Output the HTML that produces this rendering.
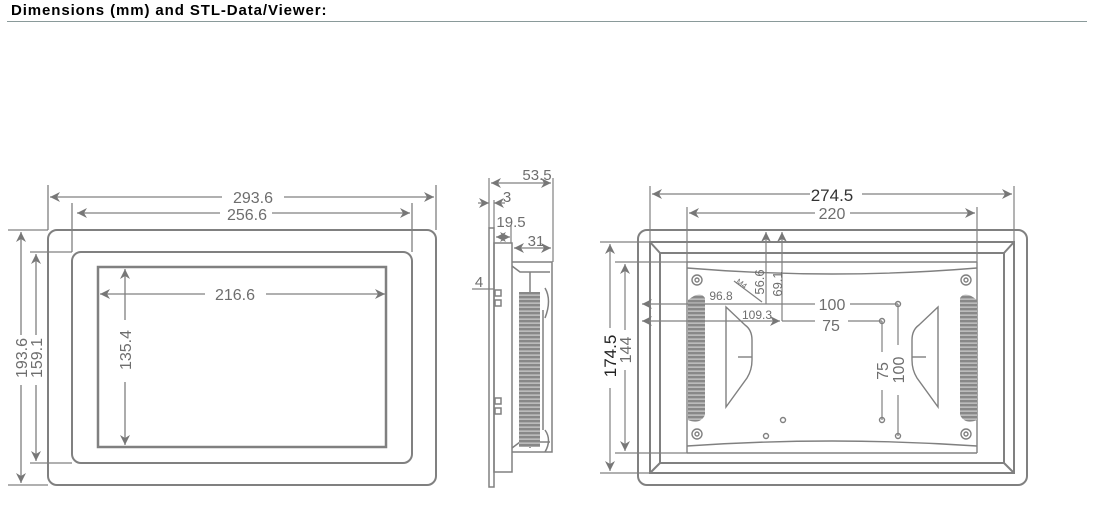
<!DOCTYPE html>
<html><head><meta charset="utf-8"><style>
html,body{margin:0;padding:0;background:#fff;width:1094px;height:517px;overflow:hidden}
.h{position:absolute;left:11px;top:2px;font:bold 15px "Liberation Sans",sans-serif;letter-spacing:0.9px;color:#000}
.ln{position:absolute;left:7px;top:21px;width:1080px;height:1px;background:#8a9a9a}
svg{position:absolute;left:0;top:0}
text{font-family:"Liberation Sans",sans-serif;fill:#6e6e6e}
</style></head><body>
<div class="h">Dimensions (mm) and STL-Data/Viewer:</div>
<div class="ln"></div>
<svg width="1094" height="517" viewBox="0 0 1094 517">
<defs>
<marker id="a" viewBox="0 0 10 10" refX="10" refY="5" markerWidth="10" markerHeight="10" orient="auto-start-reverse" markerUnits="userSpaceOnUse"><path d="M0,0 L10,5 L0,10 L3,5z" fill="#777"/></marker>
<pattern id="fin" width="6" height="4" patternUnits="userSpaceOnUse"><rect width="6" height="4" fill="#888"/><rect y="2.6" width="6" height="1" fill="#ddd"/></pattern>
</defs>
<g stroke="#808080" fill="none" stroke-width="2">
<rect x="48" y="230" width="388" height="255" rx="9"/>
<rect x="72" y="252" width="340" height="211" rx="9"/>
<rect x="98" y="267" width="288" height="180" stroke-width="2.5"/>
</g>
<g stroke="#808080" stroke-width="1.3" fill="none">
<line x1="48" y1="185" x2="48" y2="230"/><line x1="436" y1="185" x2="436" y2="230"/>
<line x1="72" y1="203" x2="72" y2="252"/><line x1="412" y1="203" x2="412" y2="252"/>
<line x1="8" y1="230" x2="48" y2="230"/><line x1="8" y1="485" x2="48" y2="485"/>
<line x1="30" y1="252" x2="72" y2="252"/><line x1="30" y1="463" x2="72" y2="463"/>
<line x1="50" y1="197" x2="222" y2="197" marker-start="url(#a)"/><line x1="284" y1="197" x2="434" y2="197" marker-end="url(#a)"/>
<line x1="77" y1="213" x2="220" y2="213" marker-start="url(#a)"/><line x1="272" y1="213" x2="410" y2="213" marker-end="url(#a)"/>
<line x1="100" y1="294" x2="205" y2="294" marker-start="url(#a)"/><line x1="266" y1="294" x2="385" y2="294" marker-end="url(#a)"/>
<line x1="21" y1="232" x2="21" y2="335" marker-start="url(#a)"/><line x1="21" y1="385" x2="21" y2="483" marker-end="url(#a)"/>
<line x1="36" y1="254" x2="36" y2="335" marker-start="url(#a)"/><line x1="36" y1="385" x2="36" y2="461" marker-end="url(#a)"/>
<line x1="125" y1="269" x2="125" y2="320" marker-start="url(#a)"/><line x1="125" y1="382" x2="125" y2="445" marker-end="url(#a)"/>
</g>
<text x="253" y="203" font-size="16" text-anchor="middle">293.6</text>
<text x="247" y="220" font-size="16" text-anchor="middle">256.6</text>
<text x="235" y="300" font-size="16" text-anchor="middle">216.6</text>
<text transform="translate(27,358) rotate(-90)" font-size="16" text-anchor="middle">193.6</text>
<text transform="translate(42,358) rotate(-90)" font-size="16" text-anchor="middle">159.1</text>
<text transform="translate(131,350) rotate(-90)" font-size="16" text-anchor="middle">135.4</text>

<g stroke="#808080" stroke-width="1.5" fill="none">
<rect x="489" y="228" width="5" height="259"/>
<rect x="494" y="243" width="18" height="229"/>
<path d="M512,262 L552,262 L552,452 L512,452"/>
<path d="M512,266 L520,272 L550,272"/><path d="M512,448 L520,442 L550,442"/>
<line x1="530" y1="272" x2="530" y2="292"/><line x1="530" y1="442" x2="530" y2="448"/>
<line x1="543" y1="310" x2="543" y2="430"/>
<rect x="495" y="290" width="6" height="6"/><rect x="495" y="300" width="6" height="6"/>
<rect x="495" y="398" width="6" height="6"/><rect x="495" y="408" width="6" height="6"/>
<path d="M545,318 Q552,300 545,288"/><path d="M545,430 Q552,440 545,452"/>
</g>
<rect x="519" y="292" width="21" height="155" fill="url(#fin)"/>
<g stroke="#808080" stroke-width="1.2" fill="none">
<line x1="489" y1="178" x2="489" y2="228"/><line x1="553" y1="178" x2="553" y2="262"/>
<line x1="491" y1="183" x2="551" y2="183" marker-start="url(#a)" marker-end="url(#a)"/>
<line x1="478" y1="203" x2="489" y2="203" marker-end="url(#a)"/><line x1="505" y1="203" x2="494" y2="203" marker-end="url(#a)"/>
<line x1="494" y1="200" x2="494" y2="228"/>
<line x1="496" y1="237" x2="510" y2="237" marker-start="url(#a)" marker-end="url(#a)"/>
<line x1="511" y1="225" x2="511" y2="243"/>
<line x1="514" y1="248" x2="551" y2="248" marker-start="url(#a)" marker-end="url(#a)"/>
<line x1="472" y1="289" x2="494" y2="289"/>
</g>
<text x="537" y="180" font-size="15" text-anchor="middle">53.5</text>
<text x="507" y="202" font-size="15" text-anchor="middle">3</text>
<text x="511" y="227" font-size="15" text-anchor="middle">19.5</text>
<text x="536" y="246" font-size="15" text-anchor="middle">31</text>
<text x="479" y="287" font-size="15" text-anchor="middle">4</text>

<g stroke="#808080" stroke-width="2" fill="none">
<rect x="638" y="230" width="389" height="255" rx="9"/>
<rect x="650" y="242" width="364" height="231"/>
<rect x="660" y="253" width="344" height="210"/>
<line x1="650" y1="242" x2="660" y2="253"/><line x1="1014" y1="242" x2="1004" y2="253"/>
<line x1="650" y1="473" x2="660" y2="463"/><line x1="1014" y1="473" x2="1004" y2="463"/>
</g>
<g stroke="#808080" stroke-width="1.4" fill="none">
<path d="M687,262 L977,262 M687,262 L687,453 M977,262 L977,453 M687,453 L977,453"/>
<path d="M687,268 Q832,280 977,268"/><path d="M687,446 Q832,436 977,446"/>
<circle cx="697" cy="280" r="5"/><circle cx="697" cy="280" r="2"/>
<circle cx="966" cy="280" r="5"/><circle cx="966" cy="280" r="2"/>
<circle cx="697" cy="434" r="5"/><circle cx="697" cy="434" r="2"/>
<circle cx="966" cy="434" r="5"/><circle cx="966" cy="434" r="2"/>
<path d="M726,307 L726,407 L747,378 Q752,370 752,360 L752,340 Q752,330 745,325 Z"/>
<line x1="738" y1="357" x2="752" y2="357"/>
<path d="M938,307 L938,407 L917,378 Q912,370 912,360 L912,340 Q912,330 919,325 Z"/>
<line x1="912" y1="357" x2="926" y2="357"/>
<circle cx="783" cy="420" r="2.5"/><circle cx="766" cy="436" r="2.5"/>
<circle cx="882" cy="420" r="2.5"/><circle cx="898" cy="436" r="2.5"/>
<circle cx="898" cy="304" r="2.5"/><circle cx="882" cy="321" r="2.5"/>
</g>
<path d="M688,300 Q700,290 705,298 L705,415 Q700,425 688,420 Z" fill="url(#fin)"/>
<path d="M977,300 Q965,290 960,298 L960,415 Q965,425 977,420 Z" fill="url(#fin)"/>
<g stroke="#808080" stroke-width="1.2" fill="none">
<line x1="650" y1="186" x2="650" y2="242"/><line x1="1014" y1="186" x2="1014" y2="242"/>
<line x1="687" y1="207" x2="687" y2="262"/><line x1="977" y1="207" x2="977" y2="262"/>
<line x1="652" y1="194" x2="810" y2="194" marker-start="url(#a)"/><line x1="862" y1="194" x2="1012" y2="194" marker-end="url(#a)"/>
<line x1="689" y1="213" x2="815" y2="213" marker-start="url(#a)"/><line x1="850" y1="213" x2="975" y2="213" marker-end="url(#a)"/>
<line x1="600" y1="242" x2="650" y2="242"/><line x1="600" y1="473" x2="650" y2="473"/>
<line x1="615" y1="262" x2="687" y2="262"/><line x1="615" y1="453" x2="687" y2="453"/>
<line x1="610" y1="244" x2="610" y2="328" marker-start="url(#a)"/><line x1="610" y1="388" x2="610" y2="471" marker-end="url(#a)"/>
<line x1="625" y1="264" x2="625" y2="330" marker-start="url(#a)"/><line x1="625" y1="370" x2="625" y2="451" marker-end="url(#a)"/>
<line x1="766" y1="232" x2="766" y2="304" marker-start="url(#a)"/>
<line x1="782" y1="232" x2="782" y2="321" marker-start="url(#a)"/>
<line x1="642" y1="304" x2="766" y2="304" marker-start="url(#a)"/>
<line x1="642" y1="321" x2="780" y2="321" marker-start="url(#a)" marker-end="url(#a)"/>
<line x1="766" y1="304" x2="815" y2="304"/><line x1="850" y1="304" x2="898" y2="304"/>
<line x1="782" y1="321" x2="815" y2="321"/><line x1="848" y1="321" x2="882" y2="321"/>
<line x1="882" y1="321" x2="882" y2="352"/><line x1="882" y1="390" x2="882" y2="420"/>
<line x1="898" y1="304" x2="898" y2="345"/><line x1="898" y1="395" x2="898" y2="436"/>
<line x1="734" y1="281" x2="762" y2="302"/>
</g>
<text x="832" y="201" font-size="17" text-anchor="middle" style="fill:#333">274.5</text>
<text x="832" y="219" font-size="16" text-anchor="middle">220</text>
<text x="832" y="310" font-size="16" text-anchor="middle">100</text>
<text x="831" y="331" font-size="16" text-anchor="middle">75</text>
<text x="721" y="300" font-size="12" text-anchor="middle">96.8</text>
<text x="757" y="319" font-size="12" text-anchor="middle">109.3</text>
<text transform="translate(740,286) rotate(35)" font-size="8" text-anchor="middle">M4</text>
<text transform="translate(764,282) rotate(-90)" font-size="13" text-anchor="middle">56.6</text>
<text transform="translate(782,284) rotate(-90)" font-size="13" text-anchor="middle">69.1</text>
<text transform="translate(616,356) rotate(-90)" font-size="17" text-anchor="middle" style="fill:#222">174.5</text>
<text transform="translate(631,350) rotate(-90)" font-size="16" text-anchor="middle">144</text>
<text transform="translate(888,371) rotate(-90)" font-size="16" text-anchor="middle">75</text>
<text transform="translate(904,370) rotate(-90)" font-size="16" text-anchor="middle">100</text>
</svg>
</body></html>
